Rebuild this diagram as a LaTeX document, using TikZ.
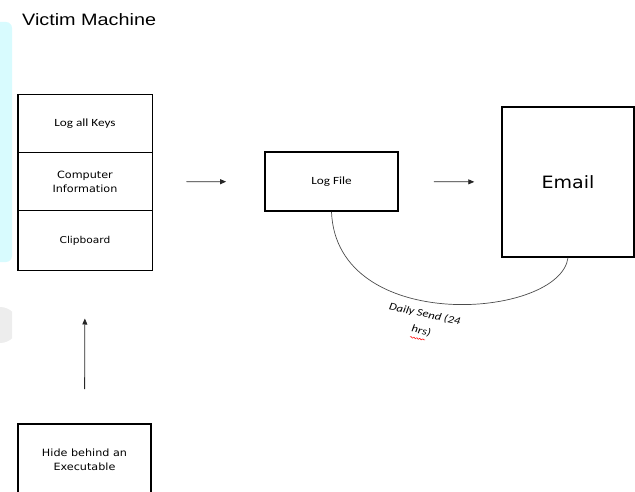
\documentclass[tikz,border=0pt]{standalone}
\usepackage{fontspec}
\setmainfont{DejaVu Sans}[FakeStretch=1.12]
\newfontfamily\calibrifont{Carlito}[FakeStretch=1.2]
\newfontfamily\arialfont{Liberation Sans}[FakeStretch=1.2]
\usetikzlibrary{arrows.meta,decorations.pathmorphing}
\definecolor{panelcyan}{HTML}{D8FBFE}
\tikzset{
    cell/.style={draw, line width=1pt, minimum width=134pt, minimum height=58pt, inner sep=0pt, align=center},
    box/.style={draw, line width=1.8pt, inner sep=0pt, align=center},
    flow/.style={-{Triangle[length=6pt,width=5pt]}, line width=0.8pt, draw=black!85},
}

\begin{document}
\begin{tikzpicture}[x=1pt, y=-1pt]
            \useasboundingbox (0,0) rectangle (635,492);
            \fill[panelcyan, rounded corners=6pt] (-10,22) rectangle (12,262);
            \begin{scope}
                \clip (0,300) rectangle (12,350);
                \fill[black!7] (0,325) circle (18);
            \end{scope}
            \node[anchor=base west, inner sep=0pt, font=\arialfont\fontsize{16.5}{19}\selectfont] (title) at (22,25.5) {Victim Machine};
            \node[cell, font=\calibrifont\fontsize{11}{13}\selectfont] (keys) at (85,124) {Log all Keys};
            \node[cell, font=\fontsize{10}{14}\selectfont] (info) at (85,182) {Computer\\Information};
            \node[cell, minimum height=59pt, font=\fontsize{9.5}{13}\selectfont] (clip) at (85,240.5) {Clipboard};
            \draw[line width=1.8pt] (keys.north west) rectangle (clip.south east);
            \node[box, minimum width=133pt, minimum height=59pt, font=\calibrifont\fontsize{11}{13}\selectfont] (logfile) at (331.5,181.5) {Log File};
            \node[box, line width=1.4pt, minimum width=132pt, minimum height=150pt, font=\fontsize{17}{20}\selectfont] (email) at (568,182) {Email};
            \node[box, minimum width=133pt, minimum height=72pt, font=\fontsize{10}{14}\selectfont] (hide) at (84.5,460) {Hide behind an\\Executable};
            \draw[flow, shorten <=34pt, shorten >=38pt] (info.east) -- (logfile.west);
            \draw[flow, shorten <=35pt, shorten >=27pt] (logfile.east) -- (email.west);
            \draw[flow, shorten <=34pt, shorten >=48pt] (hide.north) -- (clip.south);
            \draw[draw=black!70, line width=0.7pt] (logfile.south) .. controls +(5,124) and +(-8,61) .. (email.south);
            \node[rotate=-12, align=center, inner sep=0pt, font=\calibrifont\itshape\fontsize{10.5}{17}\selectfont] (daily) at (423,322.5) {Daily Send (24\\hrs)};
            \draw[red, line width=0.5pt, decorate, decoration={snake, amplitude=0.7pt, segment length=3pt}] (410,337) -- (425,340);
        \end{tikzpicture}
\end{document}
